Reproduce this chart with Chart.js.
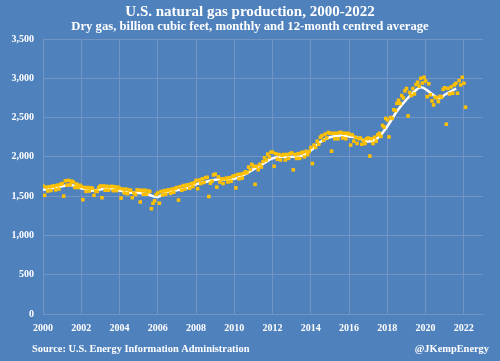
<!DOCTYPE html>
<html lang="en">
<head>
    <meta charset="UTF-8">
    <title>U.S. natural gas production</title>
    <script src="https://cdn.jsdelivr.net/npm/chart.js"></script>
    <style>
        body { margin: 0; background: #4f81bd; }
    </style>
</head>
<body>
    <canvas id="gasChart" width="500" height="361"></canvas>

    <script>
        // monthly dry gas production, bcf, Jan 2000 .. Feb 2022
        const startYear = 2000;
        const monthly = [
            1628, 1510, 1615, 1565, 1620, 1572, 1627, 1630, 1580, 1640, 1590, 1650, // 2000
            1660, 1500, 1695, 1640, 1700, 1645, 1690, 1680, 1610, 1655, 1610, 1640, // 2001
            1625, 1455, 1610, 1560, 1610, 1565, 1605, 1600, 1510, 1565, 1560, 1610, // 2002
            1630, 1480, 1630, 1575, 1625, 1575, 1620, 1625, 1570, 1620, 1570, 1615, // 2003
            1600, 1475, 1590, 1540, 1590, 1530, 1580, 1575, 1480, 1540, 1520, 1580, // 2004
            1575, 1425, 1575, 1525, 1575, 1525, 1565, 1560, 1340, 1410, 1440, 1520, // 2005
            1540, 1410, 1560, 1515, 1570, 1525, 1575, 1580, 1535, 1590, 1550, 1600, // 2006
            1610, 1450, 1620, 1575, 1635, 1590, 1640, 1645, 1600, 1660, 1620, 1670, // 2007
            1700, 1595, 1705, 1660, 1720, 1675, 1735, 1740, 1495, 1665, 1690, 1770, // 2008
            1780, 1615, 1745, 1680, 1720, 1660, 1720, 1730, 1680, 1735, 1690, 1750, // 2009
            1760, 1605, 1775, 1720, 1780, 1730, 1790, 1810, 1800, 1870, 1840, 1905, // 2010
            1880, 1650, 1880, 1835, 1905, 1870, 1940, 1990, 1960, 2035, 2000, 2060, // 2011
            2060, 1880, 2040, 1970, 2030, 1960, 2020, 2030, 1960, 2030, 1980, 2040, // 2012
            2050, 1835, 2030, 1980, 2040, 1980, 2050, 2060, 2000, 2070, 2030, 2070, // 2013
            2120, 1915, 2150, 2120, 2200, 2160, 2250, 2270, 2210, 2290, 2240, 2310, // 2014
            2300, 2072, 2300, 2230, 2300, 2230, 2310, 2310, 2240, 2300, 2230, 2300, // 2015
            2290, 2150, 2280, 2200, 2250, 2170, 2230, 2240, 2160, 2210, 2170, 2230, // 2016
            2240, 2010, 2230, 2170, 2250, 2200, 2280, 2300, 2260, 2400, 2380, 2490, // 2017
            2470, 2254, 2500, 2490, 2600, 2590, 2680, 2720, 2680, 2780, 2750, 2840, // 2018
            2870, 2521, 2820, 2780, 2870, 2800, 2920, 2950, 2900, 3000, 2940, 3013, // 2019
            2966, 2766, 2930, 2790, 2712, 2661, 2760, 2750, 2703, 2770, 2760, 2860, // 2020
            2880, 2415, 2870, 2800, 2890, 2810, 2915, 2935, 2810, 2970, 2915, 3013, // 2021
            2937, 2632                                                              // 2022
        ];

        // 12-month centred average
        const avgYears = [
            2000, 2000.5, 2001, 2001.5, 2002, 2002.5, 2003, 2003.5, 2004, 2004.5,
            2005, 2005.5, 2006, 2006.5, 2007, 2007.5, 2008, 2008.5, 2009, 2009.5,
            2010, 2010.5, 2011, 2011.5, 2012, 2012.5, 2013, 2013.5, 2014, 2014.5,
            2015, 2015.5, 2016, 2016.5, 2017, 2017.5, 2018, 2018.5, 2019, 2019.5,
            2019.75, 2020, 2020.5, 2020.75, 2021, 2021.6
        ];
        const avgValues = [
            1580, 1600, 1625, 1640, 1600, 1570, 1585, 1595, 1570, 1545,
            1540, 1520, 1490, 1555, 1575, 1600, 1650, 1680, 1710, 1710,
            1720, 1770, 1840, 1910, 1980, 2000, 2000, 2010, 2080, 2190,
            2250, 2270, 2260, 2240, 2195, 2240, 2390, 2580, 2730, 2850,
            2885, 2860, 2770, 2745, 2790, 2870
        ];

        const yTicks = [0, 500, 1000, 1500, 2000, 2500, 3000, 3500];
        const xTicks = [2000, 2002, 2004, 2006, 2008, 2010, 2012, 2014, 2016, 2018, 2020, 2022];

        const title = 'U.S. natural gas production, 2000-2022';
        const subtitle = 'Dry gas, billion cubic feet, monthly and 12-month centred average';
        const source = 'Source: U.S. Energy Information Administration';
        const handle = '@JKempEnergy';

        const bg = '#4f81bd';
        const gridColor = '#7393c0';
        const serif = '"Liberation Serif", "DejaVu Serif", serif';

        const monthlyPoints = monthly.map((v, i) => ({ x: startYear + i / 12, y: v }));
        const avgPoints = avgYears.map((yr, i) => ({ x: yr, y: avgValues[i] }));

        // background plus title and footer texts
        const textPlugin = {
            id: 'texts',
            beforeDraw(chart) {
                const ctx = chart.ctx;
                ctx.save();
                ctx.fillStyle = bg;
                ctx.fillRect(0, 0, chart.width, chart.height);
                ctx.restore();
            },
            afterDraw(chart) {
                const ctx = chart.ctx;
                ctx.save();
                ctx.fillStyle = '#ffffff';
                ctx.textBaseline = 'middle';
                ctx.textAlign = 'center';
                ctx.font = 'bold 15px ' + serif;
                ctx.fillText(title, 250, 12);
                ctx.font = 'bold 12.7px ' + serif;
                ctx.fillText(subtitle, 250, 27);
                ctx.font = 'bold 10.4px ' + serif;
                ctx.textAlign = 'left';
                ctx.fillText(source, 32, 349);
                ctx.textAlign = 'right';
                ctx.fillText(handle, 489, 349);
                ctx.restore();
            }
        };

        const ctx = document.getElementById('gasChart').getContext('2d');
        const gasChart = new Chart(ctx, {
            type: 'scatter',
            data: {
                datasets: [
                    {
                        label: 'Monthly',
                        data: monthlyPoints,
                        pointStyle: 'rect',
                        pointRadius: 2.5,
                        backgroundColor: '#ffc000',
                        borderColor: '#ffc000',
                        borderWidth: 0,
                        order: 1
                    },
                    {
                        label: '12-month centred average',
                        type: 'line',
                        data: avgPoints,
                        borderColor: '#ffffff',
                        borderWidth: 2.5,
                        pointRadius: 0,
                        tension: 0.4,
                        fill: false,
                        order: 2
                    }
                ]
            },
            options: {
                responsive: false,
                animation: false,
                layout: { padding: { top: 39, right: 17, bottom: 25, left: 0 } },
                plugins: {
                    legend: { display: false },
                    tooltip: { enabled: false }
                },
                scales: {
                    x: {
                        type: 'linear',
                        min: 2000,
                        max: 2023,
                        afterFit: (scale) => { scale.height = 22; },
                        afterBuildTicks: (scale) => {
                            scale.ticks = xTicks.map(v => ({ value: v }));
                        },
                        ticks: {
                            color: '#ffffff',
                            font: { family: serif, size: 10, weight: 'bold' },
                            padding: 8,
                            maxRotation: 0,
                            autoSkip: false,
                            callback: (v) => String(v)
                        },
                        grid: { color: gridColor, drawTicks: false },
                        border: { color: gridColor }
                    },
                    y: {
                        min: 0,
                        max: 3500,
                        afterFit: (scale) => { scale.width = 43; },
                        afterBuildTicks: (scale) => {
                            scale.ticks = yTicks.map(v => ({ value: v }));
                        },
                        ticks: {
                            color: '#ffffff',
                            font: { family: serif, size: 10, weight: 'bold' },
                            padding: 9,
                            callback: (v) => v.toLocaleString('en-US')
                        },
                        grid: { color: gridColor, drawTicks: false },
                        border: { color: gridColor }
                    }
                }
            },
            plugins: [textPlugin]
        });
    </script>
</body>
</html>
